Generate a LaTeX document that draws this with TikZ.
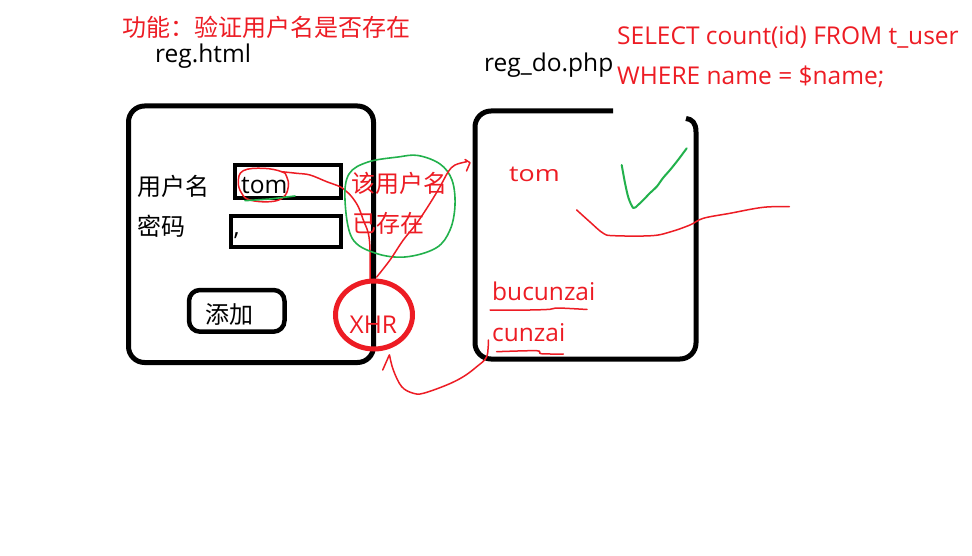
\documentclass[tikz,border=0pt]{standalone}
\usepackage{fontspec}
\setmainfont{Open Sans}
\newfontfamily\cjk{Noto Sans CJK SC}
\usetikzlibrary{shapes.geometric}
\definecolor{pred}{HTML}{ED1C24}
\definecolor{pgreen}{HTML}{22B14C}
\begin{document}
\begin{tikzpicture}[x=1pt,y=-1pt,
  lat/.style={font=\fontsize{24.5}{28}\selectfont, inner sep=0pt, anchor=base west},
  cj/.style={font=\cjk\fontsize{24}{28}\selectfont, inner sep=0pt, anchor=west},
  boxline/.style={draw=black, line width=5pt, rounded corners=16pt},
  fieldbox/.style={draw=black, line width=4pt},
  redline/.style={draw=pred, line width=1.5pt, line join=round, line cap=round},
  greenline/.style={draw=pgreen, line width=1.6pt, line join=round, line cap=round}]
\fill[white] (0,0) rectangle (972,556);
\useasboundingbox (0,0) rectangle (972,556);

% titles
\node[cj, text=pred] (title) at (122,27) {功能：验证用户名是否存在};
\node[lat] (reghtml) at (155,63) {reg.html};
\node[lat] (regdo) at (484,72) {reg\_do.php};
\node[lat, text=pred] (sql1) at (617,45) {SELECT count(id) FROM t\_user};
\node[lat, text=pred] (sql2) at (617,85) {WHERE name = \$name;};

% left form box
\draw[boxline] (128.5,106) rectangle (373.5,362.5);
\draw[fieldbox] (234.7,165.3) rectangle (340.7,198);
\draw[fieldbox] (231.3,216) rectangle (340.7,247.3);
\draw[boxline, line width=4.5pt, rounded corners=11pt] (189,290) rectangle (284.5,331.7);
\node[cj] (lbluser) at (137,186) {用户名};
\node[cj] (lblpwd) at (137,226) {密码};
\node[lat] (tomtxt) at (241,193.5) {tom};
\node[lat] (comma) at (233.5,236) {,};
\node[cj] (addbtn) at (205,314) {添加};

% right server box
\draw[black, line width=5pt, line join=round]
  (613,111) -- (491,111) arc[start angle=90, end angle=180, radius=16pt]
  -- (475,343) arc[start angle=180, end angle=270, radius=16pt]
  -- (680,359) arc[start angle=270, end angle=360, radius=16pt]
  -- (696,132) .. controls (696,123) and (692,119) .. (686,118.5);

% red annotations
\draw[redline] plot[smooth cycle, tension=0.7] coordinates {(243.3,170.7) (238.3,181.7) (241.7,193.3) (250,200) (270,201.7) (283.3,197.3) (288.3,186.7) (286.7,176.7) (281.7,171.7) (263.3,168.3)};
\draw[greenline] (245,200.7) -- (270,199) -- (295,196);
\draw[redline] plot[smooth, tension=0.6] coordinates {(281.7,171.7) (296.7,173.3) (310,175) (326.7,181.7) (340,186.7) (346.7,191.7) (351.7,196.7) (358.3,206.7) (363.3,220) (368.3,233.3) (370,250) (370,280)};

\draw[greenline] plot[smooth cycle, tension=0.6] coordinates {(345,200) (349,174) (368,162) (398,157) (418,155.5) (440,164) (452,180) (455,205) (450,230) (436,248) (405,257) (375,253) (352,238)};
\node[cj, text=pred] (exists1) at (351,183) {该用户名};
\node[cj, text=pred] (exists2) at (352,223) {已存在};

\node[draw=pred, line width=5pt, ellipse, minimum width=77pt, minimum height=68pt, inner sep=0pt] (xhr) at (374,315) {};
\node[lat, text=pred] (xhrtxt) at (349.5,333) {XHR};

\draw[redline] plot[smooth, tension=0.6] coordinates {(376.7,277) (390,260) (403.3,240) (416.7,223.3) (430,203.3) (440,186.7) (448.3,171.7) (455,165) (466.7,161.7)};
\coordinate (tipA) at (470,162.7);
\draw[redline] (465,159.5) -- (tipA) -- (466.5,171);

\node[lat, text=pred, font=\fontsize{22}{26}\selectfont, xscale=1.22] (tomhand) at (509,181.5) {tom};

\draw[greenline, line width=2pt] plot[smooth, tension=0.5] coordinates {(621.7,165) (625,183) (628.5,198) (633.3,208) (638,205) (643.3,200) (650,193) (656.7,186.7) (663,178) (670,170) (678,160) (686.7,148.3)};
\draw[redline] plot[smooth, tension=0.6] coordinates {(576.7,210) (590,222) (603.3,233.3) (614,235.7) (651.7,235.7) (670,232) (690,225) (703.3,218.3) (730,213.3) (763.3,207.3) (789.3,206.7)};

\node[lat, text=pred] (bucunzai) at (492,300) {bucunzai};
\node[lat, text=pred] (cunzai) at (492,341) {cunzai};
\draw[redline] plot[smooth, tension=0.5] coordinates {(490,310) (530,310) (550,309.3) (558,308) (587,309.5)};
\draw[redline] plot[smooth, tension=0.5] coordinates {(496.7,351.7) (536.7,350.7) (541,353.7) (563.3,354)};

\draw[redline] plot[smooth, tension=0.6] coordinates {(488.3,340) (486.7,356.7) (476.7,366.7) (463.3,376.7) (446.7,385) (423.3,393.3) (413.3,393.3) (401.7,386.7) (393.3,370) (389.5,355)};
\coordinate (tipB) at (389.3,355);
\draw[redline] (382.7,370) -- (tipB);
\end{tikzpicture}
\end{document}
